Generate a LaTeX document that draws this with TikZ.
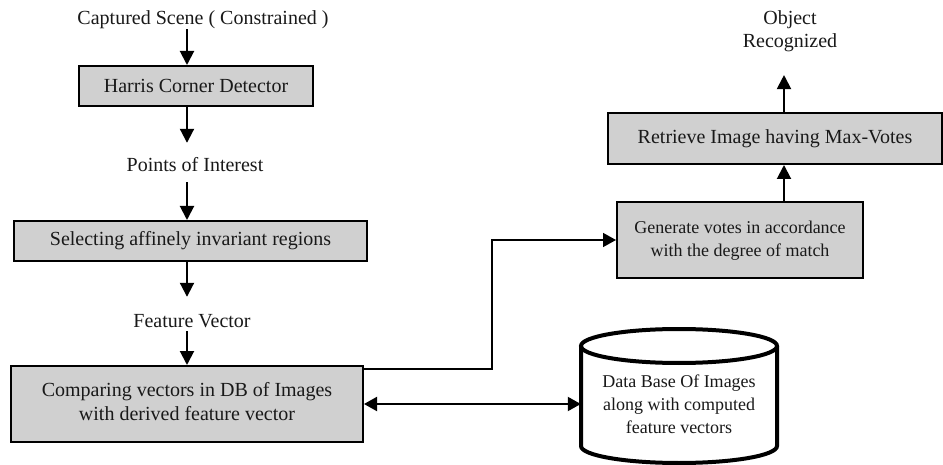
\documentclass[tikz,border=0pt]{standalone}
\usepackage{fontspec}
\setmainfont{Liberation Serif}
\usetikzlibrary{arrows.meta}
\definecolor{boxgray}{RGB}{208,208,208}
\begin{document}
\begin{tikzpicture}[x=1pt,y=-1pt,
  every node/.style={font=\fontsize{20}{23.5}\selectfont, text=black!90},
  smalltext/.style={font=\fontsize{18}{23}\selectfont},
  procbox/.style={draw, line width=2pt, fill=boxgray, inner sep=0pt, align=center},
  labeltext/.style={inner sep=0pt, text height=14pt, text depth=4pt, align=center},
  arr/.style={line width=2pt, -{Triangle[length=14pt,width=14pt]}},
  thinarr/.style={line width=1.5pt, -{Triangle[length=13pt,width=14pt]}},
  dblarr/.style={line width=2pt, {Triangle[length=13pt,width=14pt]}-{Triangle[length=13pt,width=14pt]}},
]
\useasboundingbox[fill=white] (0,0) rectangle (943,465);

% left column
\node[labeltext, anchor=base] (cap) at (203,25) {Captured Scene ( Constrained )};
\node[procbox, minimum width=234pt, minimum height=40pt] (harris) at (196,86) {Harris Corner Detector};
\node[labeltext, anchor=base] (poi) at (195,172) {Points of Interest};
\node[procbox, minimum width=353pt, minimum height=40pt] (sel) at (190.5,241) {Selecting affinely invariant regions};
\node[labeltext, anchor=base] (fv) at (192,327) {Feature Vector};
\node[procbox, minimum width=352pt, minimum height=76pt] (cmp) at (187,404)
  {\raisebox{4pt}{\begin{tabular}{@{}c@{}}Comparing vectors in DB of Images\\with derived feature vector\end{tabular}}};

% right column
\node[procbox, smalltext, minimum width=246pt, minimum height=76pt] (gen) at (740,240)
  {\raisebox{3pt}{\begin{tabular}{@{}c@{}}Generate votes in accordance\\with the degree of match\end{tabular}}};
\node[procbox, minimum width=334pt, minimum height=51pt] (ret) at (775,138.5) {Retrieve Image having Max-Votes};
\node[inner sep=0pt, align=center] (obj) at (790,31) {Object\\Recognized};

% database cylinder
\draw[line width=4pt, fill=white] (581,346) -- (581,446) arc[start angle=180, end angle=360, x radius=98pt, y radius=17pt] -- (777,346);
\draw[line width=4pt] (679,346) ellipse[x radius=98pt, y radius=17pt];
\node[smalltext, inner sep=0pt, minimum width=196pt, minimum height=60pt, align=center] (db) at (679,404) {Data Base Of Images\\along with computed\\feature vectors};

% connectors
\draw[arr] (cap.south -| cmp.north) -- (harris.north -| cmp.north);
\draw[arr, shorten >=15pt] (harris.south -| cmp.north) -- (poi.north -| cmp.north);
\draw[arr, shorten <=6pt] (poi.south -| cmp.north) -- (sel.north -| cmp.north);
\draw[arr, shorten >=16pt] (sel.south -| cmp.north) -- (fv.north -| cmp.north);
\draw[arr] (fv.south -| cmp.north) -- (cmp.north);

\coordinate (rx) at (784,0);
\draw[arr] (gen.north -| rx) -- (ret.south -| rx);
\draw[arr, shorten >=23pt] (ret.north -| rx) -- (obj.south -| rx);

\draw[thinarr] ([yshift=-4pt]cmp.north east) -- ++(128,0) |- (gen.west);
\draw[dblarr] (cmp.east) -- (db.west);
\end{tikzpicture}
\end{document}
